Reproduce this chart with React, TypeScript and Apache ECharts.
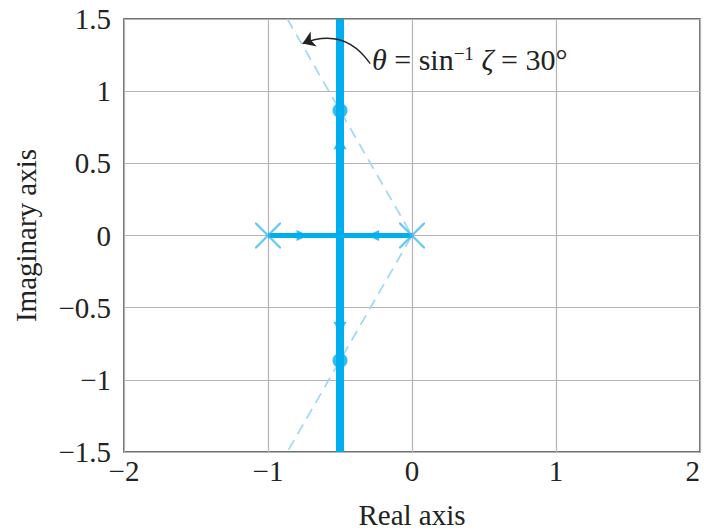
import React, { useEffect, useRef } from "react";
import * as echarts from "echarts";

const xTicks = [-2, -1, 0, 1, 2];
const yTicks = [-1.5, -1, -0.5, 0, 0.5, 1, 1.5];
const openLoopPoles: number[][] = [[-1, 0], [0, 0]];
const realSegment: number[][] = [[-1, 0], [0, 0]];
const verticalBranch: number[][] = [[-0.5, -1.5], [-0.5, 1.5]];
const dampingLine: number[][] = [[-0.866, 1.5], [0, 0], [-0.866, -1.5]];
const closedLoopPoles: number[][] = [[-0.5, 0.866], [-0.5, -0.866]];
const arrowsRight: number[][] = [[-0.76, 0]];
const arrowsLeft: number[][] = [[-0.27, 0]];
const arrowsUp: number[][] = [[-0.5, 0.64]];
const arrowsDown: number[][] = [[-0.5, -0.64]];
const annotationCurve: number[][] = [[-0.29, 1.19], [-0.76, 1.33]];

const BLUE = "#00aeef";
const FONT = "Liberation Serif";
const FS = 29;

const fmt = (v: number) => (v < 0 ? "\u2212" + String(-v) : String(v));

const crossPath =
  "path://M0,0 L1.2,0 L20,18.8 L20,20 L18.8,20 L0,1.2 Z M18.8,0 L20,0 L20,1.2 L1.2,20 L0,20 L0,18.8 Z";

export default function App() {
  const ref = useRef<HTMLDivElement>(null);
  useEffect(() => {
    document.body.style.margin = "0";
    const chart = echarts.init(ref.current!, undefined, { renderer: "svg" });
    chart.setOption({
      animation: false,
      backgroundColor: "#fff",
      grid: {
        left: 124,
        right: 4,
        top: 19,
        bottom: 78,
        show: true,
        borderColor: "#444",
        borderWidth: 1.5,
        outerBoundsMode: "none",
        containLabel: false,
      },
      xAxis: {
        type: "value",
        min: xTicks[0],
        max: xTicks[xTicks.length - 1],
        interval: 1,
        name: "Real axis",
        nameLocation: "middle",
        nameGap: 48,
        nameTextStyle: { fontFamily: FONT, fontSize: FS, color: "#222" },
        axisLine: { show: false },
        axisTick: { show: false },
        axisLabel: {
          fontFamily: FONT,
          fontSize: FS,
          color: "#222",
          margin: 4,
          formatter: fmt,
          alignMaxLabel: "right",
        },
        splitLine: { show: true, lineStyle: { color: "#b4b4b4", width: 1.2 } },
      },
      yAxis: {
        type: "value",
        min: yTicks[0],
        max: yTicks[yTicks.length - 1],
        interval: 0.5,
        name: "Imaginary axis",
        nameLocation: "middle",
        nameGap: 84,
        nameTextStyle: { fontFamily: FONT, fontSize: FS, color: "#222" },
        axisLine: { show: false },
        axisTick: { show: false },
        axisLabel: { fontFamily: FONT, fontSize: FS, color: "#222", margin: 13, formatter: fmt },
        splitLine: { show: true, lineStyle: { color: "#b4b4b4", width: 1.2 } },
      },
      series: [
        {
          type: "line",
          data: dampingLine,
          symbol: "none",
          lineStyle: { color: "#9fd8f4", width: 1.7, type: [11, 7] },
          z: 2,
        },
        {
          type: "line",
          data: realSegment,
          symbol: "none",
          lineStyle: { color: BLUE, width: 5 },
          z: 3,
        },
        {
          type: "line",
          data: verticalBranch,
          symbol: "none",
          lineStyle: { color: BLUE, width: 8 },
          z: 3,
        },
        {
          type: "scatter",
          data: openLoopPoles,
          symbol: crossPath,
          symbolSize: 26,
          itemStyle: { color: "#3bb9f0" },
          z: 4,
        },
        {
          type: "scatter",
          data: closedLoopPoles,
          symbol: "circle",
          symbolSize: 15,
          itemStyle: { color: BLUE },
          z: 4,
        },
        {
          type: "scatter",
          data: arrowsRight,
          symbol: "triangle",
          symbolRotate: -90,
          symbolSize: [11, 12],
          itemStyle: { color: BLUE },
          z: 4,
        },
        {
          type: "scatter",
          data: arrowsLeft,
          symbol: "triangle",
          symbolRotate: 90,
          symbolSize: [11, 12],
          itemStyle: { color: BLUE },
          z: 4,
        },
        {
          type: "scatter",
          data: arrowsUp,
          symbol: "triangle",
          symbolRotate: 0,
          symbolSize: [13, 12],
          itemStyle: { color: BLUE },
          z: 4,
        },
        {
          type: "scatter",
          data: arrowsDown,
          symbol: "triangle",
          symbolRotate: 180,
          symbolSize: [13, 12],
          itemStyle: { color: BLUE },
          z: 4,
        },
        {
          type: "lines",
          coordinateSystem: "cartesian2d",
          symbol: ["none", "arrow"],
          symbolSize: 12,
          lineStyle: { color: "#222", width: 1.3, curveness: -0.4, opacity: 1 },
          itemStyle: { color: "#222" },
          data: [{ coords: annotationCurve }],
          z: 5,
        },
      ],
      graphic: [
        {
          type: "text",
          left: 372,
          top: 44,
          z: 10,
          style: {
            text: "{i|θ} = sin{sup|−1} {i|ζ} = 30°",
            fontFamily: FONT,
            fontSize: 30,
            fill: "#222",
            rich: {
              i: { fontFamily: FONT, fontSize: 30, fontStyle: "italic", fill: "#222" },
              sup: { fontFamily: FONT, fontSize: 19, fill: "#222", verticalAlign: "top", padding: [0, 0, 12, 0] },
            },
          },
        },
      ],
    });
    return () => chart.dispose();
  }, []);
  return <div ref={ref} style={{ width: 704, height: 530 }} />;
}
